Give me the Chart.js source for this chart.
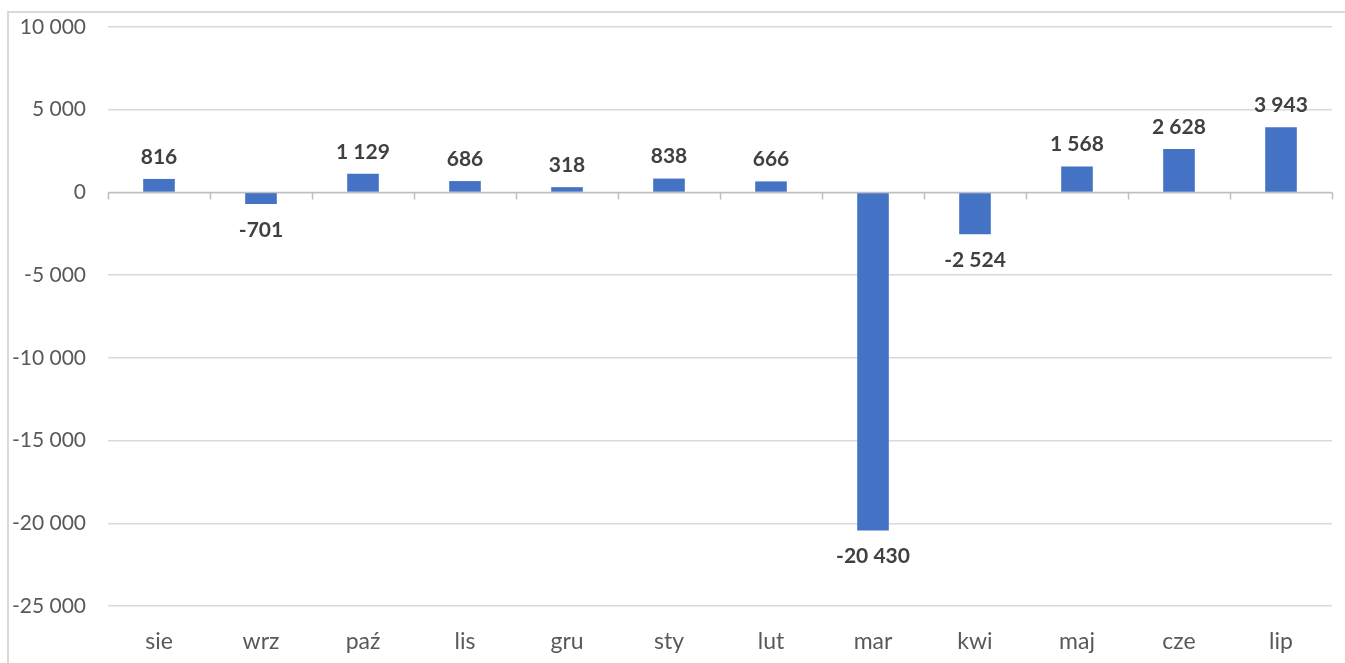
<!DOCTYPE html>
<html>
<head>
<meta charset="utf-8">
<script src="https://cdn.jsdelivr.net/npm/chart.js@4"></script>
<style>
  html, body { margin: 0; padding: 0; background: #fff; }
  #wrap { position: relative; width: 1345px; height: 663px; overflow: hidden; }
  #frame { position: absolute; left: 7px; top: 11px; width: 1345px; height: 700px;
           border-top: 2px solid #d9d9d9; border-left: 2px solid #d9d9d9; }
  canvas { position: absolute; left: 0; top: 0; }
</style>
</head>
<body>
<div id="wrap">
  <div id="frame"></div>
  <canvas id="barChart" width="1345" height="663"></canvas>
</div>
<script>
const months = ["sie", "wrz", "paź", "lis", "gru", "sty", "lut", "mar", "kwi", "maj", "cze", "lip"];
const values = [816, -701, 1129, 686, 318, 838, 666, -20430, -2524, 1568, 2628, 3943];
const yTicks = [10000, 5000, 0, -5000, -10000, -15000, -20000, -25000];

function fmt(v) {
  const s = Math.abs(v).toString().replace(/\B(?=(\d{3})+(?!\d))/g, " ");
  return (v < 0 ? "-" : "") + s;
}

// linia zera z kreskami podziału kategorii
const zeroAxis = {
  id: "zeroAxis",
  beforeDatasetsDraw(chart) {
    const { ctx, scales: { x, y }, chartArea } = chart;
    const y0 = Math.round(y.getPixelForValue(0)) + 0.5;
    ctx.save();
    ctx.strokeStyle = "#bfbfbf";
    ctx.lineWidth = 1.5;
    ctx.beginPath();
    ctx.moveTo(chartArea.left, y0);
    ctx.lineTo(chartArea.right, y0);
    const step = (chartArea.right - chartArea.left) / months.length;
    for (let i = 0; i <= months.length; i++) {
      const px = Math.round(chartArea.left + i * step) + 0.5;
      ctx.moveTo(px, y0);
      ctx.lineTo(px, y0 + 7);
    }
    ctx.stroke();
    ctx.restore();
  }
};

// etykiety danych
const dataLabels = {
  id: "dataLabels",
  afterDatasetsDraw(chart) {
    const { ctx } = chart;
    const meta = chart.getDatasetMeta(0);
    ctx.save();
    ctx.font = "bold 21px Lato, 'Open Sans', sans-serif";
    ctx.fillStyle = "#404040";
    ctx.textAlign = "center";
    ctx.textBaseline = "middle";
    meta.data.forEach((bar, i) => {
      const v = values[i];
      const ly = v >= 0 ? bar.y - 22 : bar.y + 26;
      ctx.fillText(fmt(v), bar.x, ly);
    });
    ctx.restore();
  }
};

const ctx = document.getElementById("barChart").getContext("2d");
new Chart(ctx, {
  type: "bar",
  data: {
    labels: months,
    datasets: [{
      data: values,
      backgroundColor: "#4472C4",
      borderWidth: 0,
      barPercentage: 0.62,
      categoryPercentage: 0.5,
    }],
  },
  options: {
    responsive: false,
    animation: false,
    layout: { padding: { left: 8, right: 13, top: 27, bottom: 0 } },
    plugins: { legend: { display: false }, tooltip: { enabled: false } },
    scales: {
      y: {
        min: -25000,
        max: 10000,
        afterFit(scale) { scale.width = 100; scale.paddingTop = 0; scale.paddingBottom = 0; },
        afterBuildTicks(scale) { scale.ticks = yTicks.map(v => ({ value: v })); },
        grid: { color: "#d9d9d9", lineWidth: 1.5, drawTicks: false },
        border: { display: false },
        ticks: {
          color: "#595959",
          padding: 22,
          font: { family: "Lato, 'Open Sans', sans-serif", size: 21 },
          callback: (v) => fmt(v),
        },
      },
      x: {
        afterFit(scale) { scale.height = 57; },
        grid: { display: false, drawTicks: false },
        border: { display: false },
        ticks: {
          color: "#595959",
          padding: 22,
          font: { family: "Lato, 'Open Sans', sans-serif", size: 23 },
        },
      },
    },
  },
  plugins: [zeroAxis, dataLabels],
});
</script>
</body>
</html>
